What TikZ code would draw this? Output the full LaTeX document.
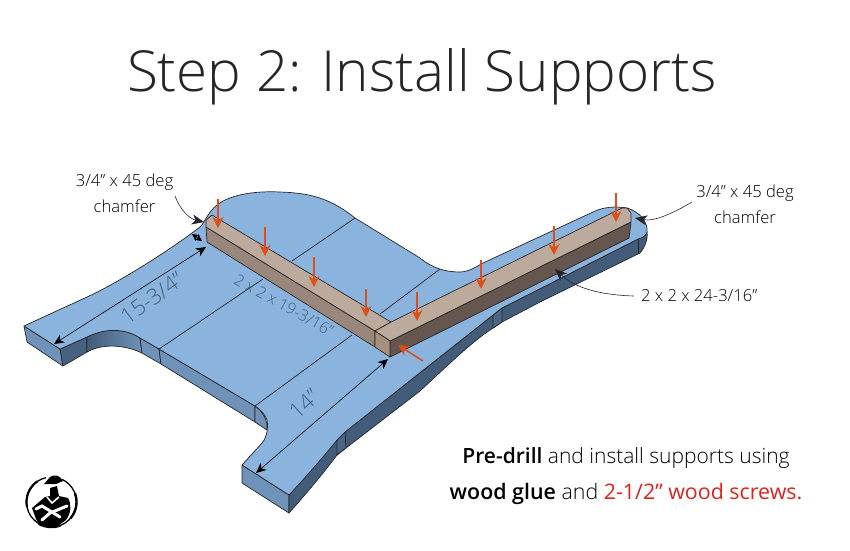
\documentclass[tikz,border=0pt]{standalone}
\usepackage{fontspec}
\setmainfont{Open Sans}
\newfontfamily\lightf{Open Sans Light}
\newfontfamily\semif{Open Sans Semibold}
\usetikzlibrary{arrows.meta}
\definecolor{topb}{HTML}{8AB3DE}
\definecolor{midb}{HTML}{6F92B8}
\definecolor{darkb}{HTML}{435C7A}
\definecolor{btop}{HTML}{BCAA9D}
\definecolor{bside}{HTML}{9A877C}
\definecolor{bdark}{HTML}{65574F}
\definecolor{bend}{HTML}{A6917F}
\definecolor{dimtxt}{HTML}{445F7C}
\definecolor{org}{HTML}{D9501E}
\definecolor{redt}{HTML}{D9241F}
\tikzset{
 edge/.style={draw=black!85,line width=.7pt,line join=round},
 fold/.style={draw=black!85,line width=.7pt},
 pushd/.style={draw=org,line width=1.6pt,-{Stealth[length=11pt,width=11pt,inset=3.5pt]}},
 dimline/.style={draw=black,line width=.6pt,{Stealth[length=10pt,width=9pt,inset=3pt]}-{Stealth[length=10pt,width=9pt,inset=3pt]}},
 callout/.style={draw=black!85,line width=.6pt,-{Stealth[length=12pt,width=10pt,inset=3.5pt]}},
 lbl/.style={inner sep=0pt,font=\lightf\fontsize{16.6}{26}\selectfont,align=center},
 dimlbl/.style={inner sep=0pt,text=dimtxt,font=\lightf\fontsize{22}{24}\selectfont},
 brush/.style={line cap=round,black},
}
\begin{document}
\begin{tikzpicture}[x=1pt,y=-1pt]
\useasboundingbox (0,0) rectangle (850,550);
% side faces
\path[edge,fill=midb] (24,326)--(60,349)--(63,366)--(27,342)--cycle;
\path[edge,fill=darkb!90!midb] (60,349)--(87,337)--(87,352)--(63,366)--cycle;
\path[edge,left color=darkb,right color=midb] (87,337) .. controls (105,328) and (125,328) .. (140,338) -- (142,353) .. controls (125,345) and (103,343) .. (87,352) -- cycle;
\path[edge,fill=midb] (140,338)--(159,349)--(161,364)--(142,353)--cycle;
\path[edge,fill=midb] (159,349)--(255,406)--(255,422)--(161,364)--cycle;
\path[edge,fill=midb] (255,406) .. controls (263,412) and (268,420) .. (267,430) -- (255,422)--cycle;
\path[edge,fill=midb] (242,465)--(289,495)--(289,513)--(242,483)--cycle;
\path[edge,fill=darkb] (289,495)--(337,440)--(345,432)--(493,315)--(502,308)--(638,239)--(647,232)
  .. controls (648,240) and (645,247) .. (640,253) -- (540,302) -- (502,322)--(493,328) .. controls (470,343) and (445,368) .. (420,391) --(346,448)--(337,455) .. controls (322,475) and (305,495) .. (289,513)--cycle;
\path[edge,fill=darkb!80!midb] (493,315)--(502,308)--(502,322)--(493,328)--cycle;
\path[edge,fill=darkb!80!midb] (337,440)--(345,432)--(346,448)--(337,455)--cycle;
\draw[fold] (638,239)--(638,253);
% top surface
\path[edge,fill=topb] (24,326)--(87,297) .. controls (118,283) and (170,250) .. (200,227)
  .. controls (205,222) and (208,212) .. (217,205) .. controls (232,193) and (260,191) .. (280,192)
  .. controls (310,193) and (330,198) .. (355,218) -- (420,258)
  .. controls (432,268) and (445,272) .. (460,272) .. controls (468,272) and (476,267) .. (483,263)
  -- (593,212) .. controls (603,207) and (615,206) .. (627,208) .. controls (640,212) and (648,222) .. (647,232)
  .. controls (646,236) and (642,238) .. (638,239)
  -- (502,308) -- (493,315) -- (345,432) -- (337,440)
  .. controls (325,455) and (305,478) .. (289,495)
  -- (242,465) -- (262,443) .. controls (268,436) and (268,425) .. (267,420) .. controls (265,414) and (260,409) .. (255,406)
  -- (159,349) -- (140,338) .. controls (125,328) and (105,328) .. (87,337) -- (60,349) -- cycle;
% fold lines
\draw[fold] (159,349)--(263,279);
\draw[fold] (292,261)--(355,218);
\draw[fold] (255,406)--(352,335);
\draw[fold] (380,314)--(440,269);
% dimension labels
\node[dimlbl,rotate=36] (d1) at (152,298) {15-3/4”};
\node[dimlbl,rotate=42] (d2) at (304,404) {14”};
\node[dimlbl,rotate=-29,font=\lightf\fontsize{15.8}{18}\selectfont] (d3) at (284,305) {2 x 2 x 19-3/16”};
% beam 1
\path[edge,fill=bside] (206,227)--(375,331)--(375,347)--(207,242)--cycle;
\path[edge,fill=btop] (206,227)--(206,220)--(212,215)--(391,322)--(375,331)--cycle;
% beam 2
\path[edge,fill=bdark] (390,341)--(631,222)--(629,238)--(390,357)--cycle;
\path[edge,fill=btop] (375,331)--(391,322)--(622,208)--(627,208)--(631,213)--(631,222)--(390,341)--cycle;
\path[edge,fill=bend] (375,331)--(390,341)--(390,357)--(375,347)--cycle;
% dimension arrows
\coordinate (a1) at (54,344); \coordinate (a2) at (206,247);
\coordinate (b1) at (256,473); \coordinate (b2) at (388,359);
\coordinate (c1) at (192,234); \coordinate (c2) at (202,241);
\draw[dimline] (a1)--(a2);
\draw[dimline] (b1)--(b2);
\draw[line width=.6pt,{Stealth[length=7pt,width=7pt,inset=2pt]}-{Stealth[length=7pt,width=7pt,inset=2pt]}] (c1)--(c2);
% orange arrows
\foreach \nm/\x/\ya/\yb in {p1/218/199/228,p2/265/227/256,p3/314/257/287,p4/366/289/317,p5/417/292/321,p6/481/260/289,p7/554/226/255,p8/616/193/222}{
 \coordinate (\nm s) at (\x,\ya); \coordinate (\nm e) at (\x,\yb);
 \draw[pushd] (\nm s)--(\nm e);
}
\coordinate (p9s) at (423,361); \coordinate (p9e) at (398,345);
\draw[pushd] (p9s)--(p9e);
% callouts
\node[lbl] (tl) at (124.5,193.5) {3/4” x 45 deg\\chamfer};
\node[lbl] (tr) at (745,204) {3/4” x 45 deg\\chamfer};
\node[lbl,anchor=west] (tb) at (641,296) {2 x 2 x 24-3/16”};
\coordinate (k1) at (175,196); \coordinate (k2) at (204,222);
\coordinate (k3) at (692,202); \coordinate (k4) at (635,218);
\coordinate (k5) at (634,296); \coordinate (k6) at (555,269);
\draw[callout] (k1) .. controls (180,210) and (190,219) .. (k2);
\draw[callout] (k3) .. controls (675,212) and (655,222) .. (k4);
\draw[callout] (k5) .. controls (600,295) and (575,288) .. (k6);
% title and text
\node[inner sep=0pt,text=black!85,font=\lightf\fontsize{56.6}{60}\selectfont] (title) at (422,77) {Step 2: Install Supports};
\node[inner sep=0pt,anchor=base,font=\fontsize{21}{24}\selectfont] (l1) at (626,463) {{\semif Pre-drill} {\lightf and install supports using}};
\node[inner sep=0pt,anchor=base,font=\fontsize{21.4}{24}\selectfont] (l2) at (626,499) {{\semif wood glue} {\lightf and} {\color{redt}2-1/2” wood screws.}};
% logo
\draw[brush,line width=1.3pt] (51.5,502) circle (25);
\draw[brush,line width=2.4pt] plot[smooth,domain=-20:40,samples=20] ({51.5+25*cos(\x)},{502+25*sin(\x)});
\draw[brush,line width=2.4pt] plot[smooth,domain=70:120,samples=20] ({51.5+25*cos(\x)},{502+25*sin(\x)});
\draw[brush,line width=2.2pt] plot[smooth,domain=170:235,samples=20] ({51.5+25*cos(\x)},{502+25*sin(\x)});
\fill[white] (46,474) rectangle (62,484);
\fill[black] (44,484) -- (50,477) .. controls (54,474) and (60,475) .. (63,481) -- (56,484) -- cycle;
\fill[black] (50,488) -- (57,486) -- (59,496) -- (68,498) .. controls (72,505) and (71,513) .. (66,520) -- (56,527) -- (40,526) -- (36,519) -- (32,508) -- (45,497) -- (50,496) -- cycle;
\draw[white,line width=3pt,line cap=round] (36,509) -- (42,506) -- (60,517);
\draw[white,line width=3pt,line cap=round] (67,506) -- (50,513) -- (42,520);
\draw[white,line width=1.6pt] (47,497) -- (52,503) -- (59,497);
\end{tikzpicture}
\end{document}
